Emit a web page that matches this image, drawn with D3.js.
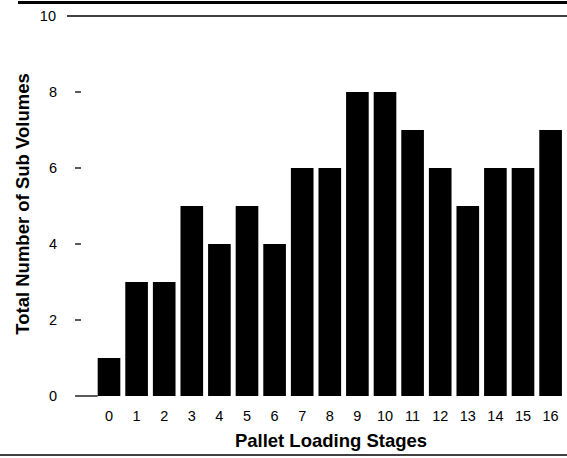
<!DOCTYPE html>
<html><head><meta charset="utf-8">
<script src="https://cdn.jsdelivr.net/npm/d3@7"></script>
<style>body{margin:0;background:#fff}svg{display:block}text{font-family:"Liberation Sans",Arial,sans-serif}</style>
</head><body><svg id="c" width="567" height="458"></svg>
<script>
const stages = ["0","1","2","3","4","5","6","7","8","9","10","11","12","13","14","15","16"];
const subVolumes = [1,3,3,5,4,5,4,6,6,8,8,7,6,5,6,6,7];
const yTicks = [0,2,4,6,8,10];

const svg = d3.select("#c");
const x = d3.scaleBand().domain(stages).range([95.2,564.4]).paddingInner(0.18).paddingOuter(0.09);
const y = d3.scaleLinear().domain([0,10]).range([396,16]);

// scan border lines
svg.append("line").attr("x1",18).attr("x2",567).attr("y1",2.5).attr("y2",2.5).attr("stroke","#000").attr("stroke-width",3);
svg.append("line").attr("x1",0).attr("x2",567).attr("y1",455).attr("y2",455).attr("stroke","#000").attr("stroke-width",1.5);

// top gridline at 10
svg.append("line").attr("x1",67).attr("x2",567).attr("y1",y(10)).attr("y2",y(10)).attr("stroke","#000").attr("stroke-width",1.3);
// baseline at 0
svg.append("line").attr("x1",75).attr("x2",x("0")).attr("y1",y(0)).attr("y2",y(0)).attr("stroke","#000").attr("stroke-width",1.3);

// y axis ticks & labels
const yg = svg.append("g");
yTicks.forEach(t=>{
  if(t>0 && t<10) yg.append("line").attr("x1",75).attr("x2",81).attr("y1",y(t)).attr("y2",y(t)).attr("stroke","#000").attr("stroke-width",1.3);
  yg.append("text").attr("x",t===10?56:57).attr("y",y(t)).attr("dy","0.35em").attr("text-anchor","end").attr("font-size",14.5).text(t);
});

// bars
svg.selectAll("rect.bar").data(subVolumes).join("rect").attr("class","bar")
  .attr("x",(d,i)=>x(stages[i])).attr("width",x.bandwidth())
  .attr("y",d=>y(d)).attr("height",d=>y(0)-y(d)).attr("fill","#000");

// x tick labels
svg.selectAll("text.xt").data(stages).join("text").attr("class","xt")
  .attr("x",d=>x(d)+x.bandwidth()/2).attr("y",421).attr("text-anchor","middle").attr("font-size",14.5).text(d=>d);

// axis titles
svg.append("text").attr("x",331).attr("y",447).attr("text-anchor","middle").attr("font-size",18.5).attr("font-weight","bold").text("Pallet Loading Stages");
svg.append("text").attr("transform","translate(29,204) rotate(-90)").attr("text-anchor","middle").attr("font-size",18.5).attr("font-weight","bold").text("Total Number of Sub Volumes");
</script></body></html>
